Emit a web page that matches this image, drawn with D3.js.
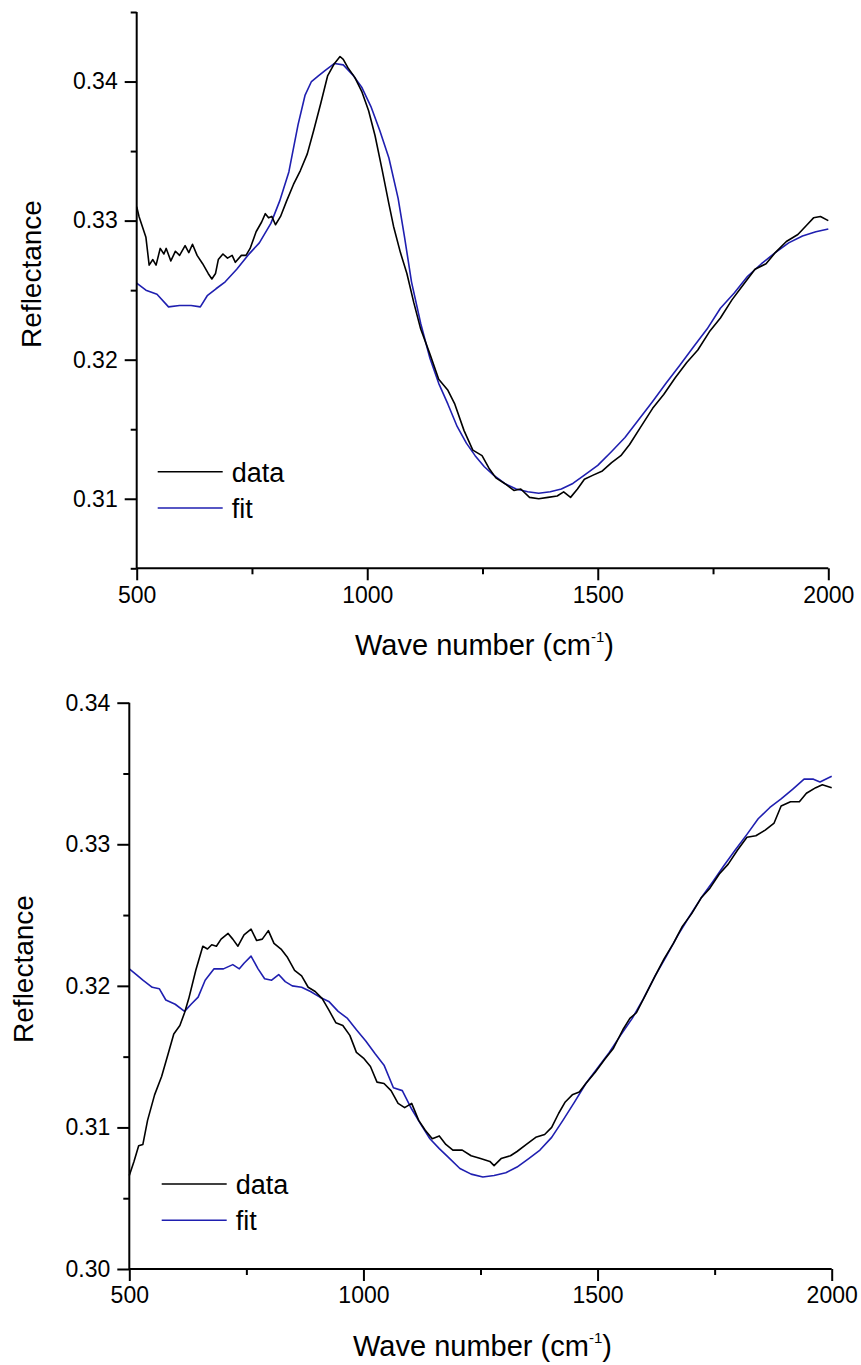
<!DOCTYPE html>
<html>
<head>
<meta charset="utf-8">
<script src="https://cdn.jsdelivr.net/npm/d3@7"></script>
<style>
  html, body { margin: 0; padding: 0; background: #ffffff; }
  svg { display: block; }
  text { font-family: "Liberation Sans", Arial, sans-serif; fill: #000; }
</style>
</head>
<body>
<svg id="chart" width="861" height="1365"></svg>
<script>
// ---------- DATA ----------
// Panel 1
const topDataX = [500,505,520,527,535,542,551,559,564,574,584,593,605,613,621,631,643,655,663,671,677,687,697,707,714,727,737,746,759,771,779,786,793,801,812,825,840,855,870,884,899,914,929,941,948,958,973,988,1003,1017,1032,1047,1057,1072,1086,1101,1116,1136,1155,1175,1190,1210,1229,1249,1264,1279,1298,1318,1333,1352,1372,1392,1412,1426,1441,1456,1471,1490,1510,1530,1550,1569,1594,1619,1643,1668,1693,1717,1742,1766,1791,1816,1841,1865,1885,1909,1934,1954,1968,1983,2000];
const topDataY = [0.3310,0.3303,0.3288,0.3268,0.3272,0.3268,0.3280,0.3276,0.3280,0.3271,0.3278,0.3275,0.3282,0.3277,0.3283,0.3275,0.3269,0.3262,0.3258,0.3262,0.3272,0.3276,0.3273,0.3275,0.3270,0.3275,0.3275,0.3280,0.3292,0.3299,0.3305,0.3302,0.3303,0.3297,0.3303,0.3314,0.3326,0.3336,0.3348,0.3365,0.3384,0.3404,0.3413,0.3418,0.3416,0.3410,0.3403,0.3393,0.3379,0.3361,0.3337,0.3312,0.3296,0.3277,0.3262,0.3241,0.3222,0.3204,0.3186,0.3178,0.3168,0.3149,0.3135,0.3131,0.3122,0.3115,0.3111,0.3106,0.3107,0.3101,0.3100,0.3101,0.3102,0.3105,0.3101,0.3107,0.3114,0.3117,0.3120,0.3126,0.3131,0.3139,0.3152,0.3165,0.3175,0.3187,0.3198,0.3207,0.3220,0.3230,0.3243,0.3254,0.3265,0.3269,0.3277,0.3285,0.3290,0.3297,0.3302,0.3303,0.3300];
const topFitX = [500,520,544,569,593,618,638,653,672,692,717,741,766,791,810,830,850,865,879,894,909,929,948,968,988,1008,1027,1047,1067,1081,1096,1116,1136,1155,1175,1195,1215,1234,1254,1274,1298,1323,1348,1372,1397,1421,1446,1471,1500,1530,1559,1589,1619,1648,1678,1707,1737,1766,1796,1825,1855,1885,1914,1944,1973,2000];
const topFitY = [0.3255,0.3250,0.3247,0.3238,0.3239,0.3239,0.3238,0.3246,0.3251,0.3256,0.3265,0.3275,0.3284,0.3298,0.3314,0.3335,0.3369,0.3390,0.3400,0.3404,0.3408,0.3413,0.3412,0.3405,0.3396,0.3382,0.3365,0.3345,0.3316,0.3288,0.3256,0.3226,0.3201,0.3183,0.3168,0.3152,0.3140,0.3131,0.3123,0.3117,0.3111,0.3107,0.3105,0.3104,0.3105,0.3107,0.3111,0.3117,0.3124,0.3134,0.3144,0.3157,0.3170,0.3183,0.3196,0.3209,0.3222,0.3237,0.3248,0.3260,0.3269,0.3277,0.3284,0.3289,0.3292,0.3294];

// Panel 2
const botDataX = [500,510,520,529,539,554,569,583,595,608,618,627,642,657,667,676,686,696,711,721,732,745,760,772,784,797,809,824,838,853,868,882,897,912,926,941,956,971,985,1000,1015,1029,1044,1059,1074,1088,1103,1118,1132,1147,1162,1176,1191,1211,1230,1250,1270,1279,1294,1314,1328,1348,1368,1387,1402,1417,1431,1446,1461,1475,1495,1515,1534,1554,1569,1583,1603,1623,1642,1662,1681,1701,1721,1740,1760,1779,1799,1819,1838,1858,1877,1892,1912,1931,1946,1966,1980,2000];
const botDataY = [0.3066,0.3076,0.3087,0.3088,0.3105,0.3123,0.3136,0.3152,0.3166,0.3172,0.3181,0.3191,0.3211,0.3228,0.3226,0.3229,0.3228,0.3233,0.3237,0.3233,0.3228,0.3236,0.3240,0.3232,0.3233,0.3239,0.3230,0.3226,0.3220,0.3211,0.3207,0.3199,0.3196,0.3191,0.3183,0.3174,0.3172,0.3165,0.3153,0.3149,0.3143,0.3132,0.3131,0.3126,0.3117,0.3114,0.3117,0.3105,0.3098,0.3092,0.3094,0.3088,0.3084,0.3084,0.3080,0.3078,0.3076,0.3073,0.3078,0.3080,0.3083,0.3088,0.3093,0.3095,0.3100,0.3110,0.3118,0.3123,0.3125,0.3131,0.3139,0.3148,0.3156,0.3169,0.3177,0.3181,0.3194,0.3207,0.3219,0.3230,0.3242,0.3251,0.3262,0.3269,0.3279,0.3286,0.3296,0.3305,0.3306,0.3310,0.3315,0.3327,0.3330,0.3330,0.3336,0.3340,0.3342,0.3340];
const botFitX = [500,515,529,549,564,578,598,618,632,647,662,681,701,721,735,745,760,775,789,804,819,833,848,868,887,907,926,946,966,985,1005,1025,1044,1064,1083,1103,1123,1142,1162,1181,1206,1230,1255,1279,1304,1328,1353,1377,1402,1426,1451,1475,1500,1525,1549,1574,1598,1623,1647,1672,1696,1721,1745,1770,1794,1819,1843,1868,1892,1917,1941,1961,1975,2000];
const botFitY = [0.3212,0.3208,0.3204,0.3199,0.3198,0.3190,0.3187,0.3182,0.3187,0.3192,0.3204,0.3212,0.3212,0.3215,0.3212,0.3216,0.3221,0.3212,0.3205,0.3204,0.3208,0.3203,0.3200,0.3199,0.3196,0.3192,0.3189,0.3182,0.3177,0.3169,0.3161,0.3152,0.3144,0.3128,0.3126,0.3113,0.3102,0.3092,0.3085,0.3079,0.3071,0.3067,0.3065,0.3066,0.3068,0.3072,0.3078,0.3084,0.3093,0.3105,0.3118,0.3131,0.3142,0.3153,0.3165,0.3177,0.3191,0.3207,0.3221,0.3236,0.3249,0.3262,0.3273,0.3285,0.3296,0.3307,0.3318,0.3326,0.3332,0.3339,0.3346,0.3346,0.3344,0.3348];

// Axes ticks / labels
const xMajorTicks = [500, 1000, 1500, 2000];
const xMinorTicks = [750, 1250, 1750];
const topYMajor = [0.31, 0.32, 0.33, 0.34];
const topYMinor = [0.305, 0.315, 0.325, 0.335, 0.345];
const botYMajor = [0.30, 0.31, 0.32, 0.33, 0.34];
const botYMinor = [0.305, 0.315, 0.325, 0.335];
const xTitle = "Wave number (cm";
const xTitleSup = "-1";
const yTitle = "Reflectance";
const legendLabels = ["data", "fit"];
const seriesColors = ["#000000", "#1f1fb0"];

// ---------- DRAW ----------
const svg = d3.select("#chart");

function panel(cfg) {
  const x = d3.scaleLinear().domain([500, 2000]).range([cfg.x0, cfg.x1]);
  const y = d3.scaleLinear().domain(cfg.yDomain).range([cfg.yBottom, cfg.yTop]);
  const g = svg.append("g");

  const line = d3.line().x(d => x(d[0])).y(d => y(d[1]));
  const series = [
    d3.zip(cfg.dataX, cfg.dataY),
    d3.zip(cfg.fitX, cfg.fitY)
  ];
  [1, 0].forEach(i => {
    g.append("path").datum(series[i])
      .attr("d", line)
      .attr("fill", "none")
      .attr("stroke", seriesColors[i])
      .attr("stroke-width", 1.6)
      .attr("stroke-linejoin", "round");
  });

  // x axis
  const xAxis = g.append("g").attr("transform", `translate(0,${cfg.yBottom})`)
    .call(d3.axisBottom(x).tickValues(xMajorTicks).tickSize(12).tickPadding(6).tickFormat(d3.format("d")));
  g.append("g").attr("transform", `translate(0,${cfg.yBottom})`)
    .call(d3.axisBottom(x).tickValues(xMinorTicks).tickSize(6).tickFormat(""))
    .select(".domain").remove();

  // y axis
  const yAxis = g.append("g").attr("transform", `translate(${cfg.x0},0)`)
    .call(d3.axisLeft(y).tickValues(cfg.yMajor).tickSize(12).tickPadding(7).tickFormat(d3.format(".2f")));
  g.append("g").attr("transform", `translate(${cfg.x0},0)`)
    .call(d3.axisLeft(y).tickValues(cfg.yMinor).tickSize(6).tickFormat(""))
    .select(".domain").remove();

  g.selectAll(".domain").attr("stroke-width", 2).attr("stroke", "#000");
  g.selectAll(".tick line").attr("stroke-width", 2).attr("stroke", "#000");
  xAxis.select(".domain").attr("d", `M${cfg.x0},0H${cfg.x1}`);
  yAxis.select(".domain").attr("d", `M0,${cfg.yBottom}V${cfg.yTop}`);
  g.selectAll(".tick text").attr("font-size", 23).attr("fill", "#000")
    .style("font-family", "'Liberation Sans', Arial, sans-serif");

  // x title
  const xt = g.append("text")
    .attr("x", (cfg.x0 + cfg.x1) / 2 + 2)
    .attr("y", cfg.yBottom + 87)
    .attr("text-anchor", "middle")
    .attr("font-size", 29);
  xt.append("tspan").text(xTitle);
  xt.append("tspan").text(xTitleSup).attr("font-size", 15).attr("dy", -13);
  xt.append("tspan").text(")").attr("dy", 13);

  // y title
  g.append("text")
    .attr("transform", `translate(${cfg.yTitleX},${cfg.yTitleY}) rotate(-90)`)
    .attr("text-anchor", "middle")
    .attr("font-size", 28)
    .text(yTitle);

  // legend
  legendLabels.forEach((lab, i) => {
    const ly = cfg.legY + i * 36.3;
    g.append("line")
      .attr("x1", cfg.legX).attr("x2", cfg.legX + 65)
      .attr("y1", ly).attr("y2", ly)
      .attr("stroke", seriesColors[i]).attr("stroke-width", 1.6);
    g.append("text")
      .attr("x", cfg.legX + 74).attr("y", ly + 10)
      .attr("font-size", 27)
      .text(lab);
  });
}

panel({
  x0: 136.7, x1: 828.3, yTop: 12, yBottom: 568.3, yDomain: [0.305, 0.345],
  yMajor: topYMajor, yMinor: topYMinor,
  dataX: topDataX, dataY: topDataY, fitX: topFitX, fitY: topFitY,
  yTitleX: 41, yTitleY: 274, legX: 157.7, legY: 471.7
});
panel({
  x0: 129.3, x1: 831.7, yTop: 702.7, yBottom: 1269, yDomain: [0.30, 0.34],
  yMajor: botYMajor, yMinor: botYMinor,
  dataX: botDataX, dataY: botDataY, fitX: botFitX, fitY: botFitY,
  yTitleX: 33, yTitleY: 969, legX: 161.7, legY: 1184
});
</script>
</body>
</html>
